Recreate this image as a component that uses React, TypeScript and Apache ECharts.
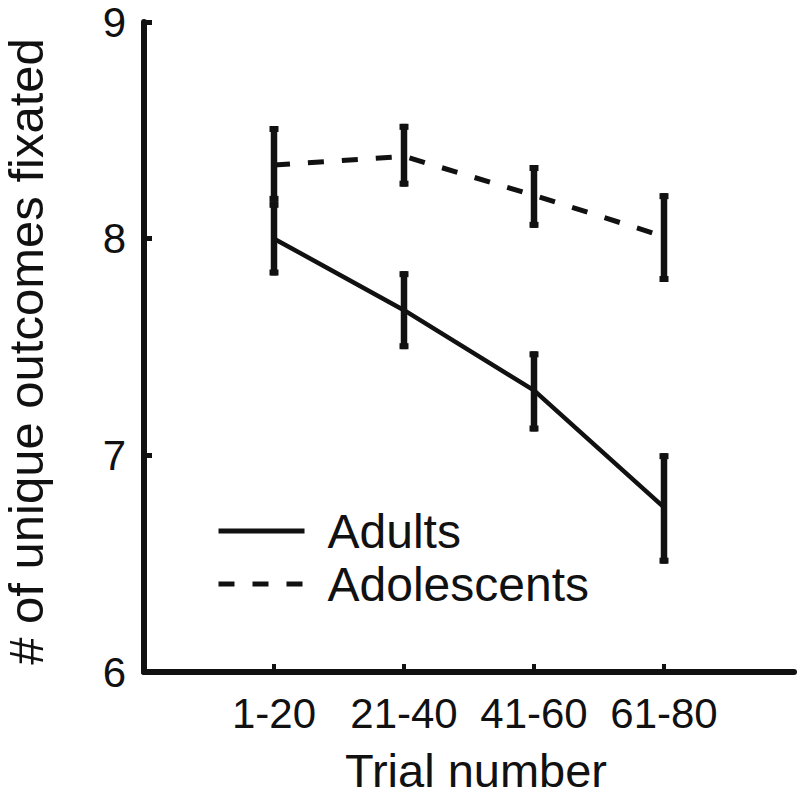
import React, { useEffect, useRef } from "react";
import * as echarts from "echarts";

const categories = ["1-20", "21-40", "41-60", "61-80"];
const yTicks = [6, 7, 8, 9];

const adultsMean = [8.0, 7.67, 7.3, 6.76];
const adultsLow = [7.83, 7.49, 7.11, 6.5];
const adultsHigh = [8.17, 7.85, 7.48, 7.01];

const adolMean = [8.34, 8.38, 8.2, 8.01];
const adolLow = [8.17, 8.24, 8.05, 7.8];
const adolHigh = [8.52, 8.53, 8.34, 8.21];

const INK = "#111111";
const FONT = "'Liberation Sans', Arial, Helvetica, sans-serif";

export default function App() {
  const ref = useRef<HTMLDivElement>(null);

  useEffect(() => {
    if (!ref.current) return;
    const chart = echarts.init(ref.current, null, { renderer: "svg" });

    const xs = categories.map((_, i) => i + 1);
    const errData = [
      ...xs.map((x, i) => [x, adultsLow[i], adultsHigh[i]]),
      ...xs.map((x, i) => [x, adolLow[i], adolHigh[i]]),
    ];

    const option: any = {
      animation: false,
      backgroundColor: "#ffffff",
      textStyle: { fontFamily: FONT, color: INK },
      grid: {
        left: 144,
        right: 6,
        top: 22,
        bottom: 126,
        containLabel: false,
        outerBoundsMode: "none",
      },
      legend: {
        data: ["Adults", "Adolescents"],
        orient: "vertical",
        left: 211,
        top: 502,
        itemWidth: 86,
        itemHeight: 10,
        itemGap: 5,
        lineStyle: { width: 5 },
        itemStyle: { opacity: 0 },
        textStyle: {
          fontSize: 48,
          color: INK,
          fontFamily: FONT,
          padding: [0, 0, 0, 18],
        },
        selectedMode: false,
      },
      xAxis: {
        type: "value",
        min: 0,
        max: 5,
        interval: 1,
        name: "Trial number",
        nameLocation: "middle",
        nameGap: 75,
        nameTextStyle: {
          fontSize: 47,
          color: INK,
          fontFamily: FONT,
          padding: [0, 0, 0, 14],
        },
        splitLine: { show: false },
        axisLine: { show: true, onZero: false, lineStyle: { color: INK, width: 6 } },
        axisTick: {
          show: true,
          inside: true,
          length: 8,
          lineStyle: { color: INK, width: 4 },
          customValues: xs,
        },
        axisLabel: {
          fontSize: 42,
          color: INK,
          fontFamily: FONT,
          margin: 20,
          customValues: xs,
          formatter: (v: number) => categories[Math.round(v) - 1] ?? "",
        },
      },
      yAxis: {
        type: "value",
        min: 6,
        max: 9,
        interval: 1,
        name: "# of unique outcomes fixated",
        nameLocation: "middle",
        nameRotate: 90,
        nameGap: 94,
        nameTextStyle: {
          fontSize: 49,
          color: INK,
          fontFamily: FONT,
          padding: [0, 9, 0, 0],
        },
        splitLine: { show: false },
        axisLine: { show: true, lineStyle: { color: INK, width: 6 } },
        axisTick: {
          show: true,
          inside: true,
          length: 8,
          lineStyle: { color: INK, width: 5 },
          customValues: yTicks,
        },
        axisLabel: {
          fontSize: 42,
          color: INK,
          fontFamily: FONT,
          margin: 18,
          customValues: yTicks,
        },
      },
      series: [
        {
          name: "Adults",
          type: "line",
          data: xs.map((x, i) => [x, adultsMean[i]]),
          symbol: "none",
          lineStyle: { color: INK, width: 4.5, type: "solid" },
          itemStyle: { color: INK },
          z: 2,
        },
        {
          name: "Adolescents",
          type: "line",
          data: xs.map((x, i) => [x, adolMean[i]]),
          symbol: "none",
          lineStyle: { color: INK, width: 5, type: [16, 18], dashOffset: 0 },
          itemStyle: { color: INK },
          z: 2,
        },
        {
          name: "errors",
          type: "custom",
          data: errData,
          encode: { x: 0, y: [1, 2] },
          z: 3,
          renderItem: (params: any, api: any) => {
            const x = api.value(0);
            const lo = api.value(1);
            const hi = api.value(2);
            const pTop = api.coord([x, hi]);
            const pBot = api.coord([x, lo]);
            return {
              type: "group",
              children: [
                {
                  type: "line",
                  shape: { x1: pTop[0], y1: pTop[1], x2: pBot[0], y2: pBot[1] },
                  style: { stroke: INK, lineWidth: 6.5 },
                },
                {
                  type: "rect",
                  shape: { x: pTop[0] - 4.5, y: pTop[1], width: 9, height: 6 },
                  style: { fill: INK },
                },
                {
                  type: "rect",
                  shape: { x: pBot[0] - 4.5, y: pBot[1] - 6, width: 9, height: 6 },
                  style: { fill: INK },
                },
              ],
            };
          },
        },
      ],
    };

    chart.setOption(option);
    return () => chart.dispose();
  }, []);

  return (
    <div
      ref={ref}
      style={{ position: "fixed", left: 0, top: 0, width: 800, height: 798, background: "#fff" }}
    />
  );
}
